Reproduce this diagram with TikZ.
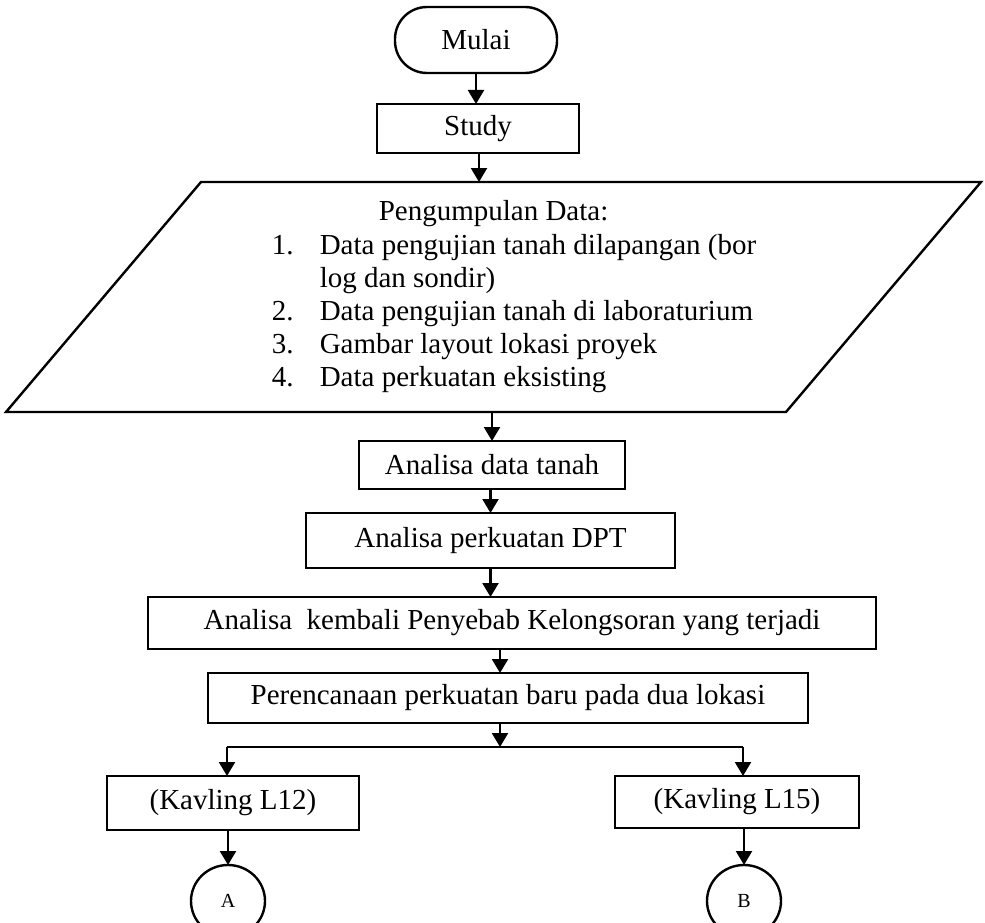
\documentclass[tikz,border=0pt]{standalone}
\usepackage{fontspec}
\setmainfont{Liberation Serif}
\usetikzlibrary{positioning}
\usetikzlibrary{shapes.geometric}
\usetikzlibrary{arrows.meta}

\begin{document}
\begin{tikzpicture}[x=1pt, y=-1pt, thick, main/.style = {draw, line width=2.4pt, inner sep=0pt, outer sep=0pt, font=\fontsize{29}{33.2}\selectfont}, term/.style = {main, rounded corners=32pt}, ring/.style = {draw, ellipse, line width=2.4pt, inner sep=0pt, outer sep=0pt, minimum width=74pt, minimum height=72pt, font=\fontsize{20}{24}\selectfont}, arr/.style = {line width=2.2pt, -{Triangle[length=14pt, width=16pt]}}]
            \path[use as bounding box, clip] (0,0) rectangle (985,923);
            \node[term, minimum width=162pt, minimum height=66pt] (mulai) at (476,40) {Mulai};
            \node[main, minimum width=202pt, minimum height=49pt] (study) [below=31pt of mulai, xshift=2pt] {Study};
            \coordinate (datatop) at (479,182);
            \coordinate (databot) at (492,412);
            \draw[line width=2.4pt] (201,182) -- (981,182) -- (786,412) -- (6,412) -- cycle;
            \node[inner sep=0pt, align=left, font=\fontsize{29}{33.2}\selectfont] (data) at (514,297) {\hspace*{107pt}Pengumpulan Data:\\
                \makebox[48pt][l]{1.}Data pengujian tanah dilapangan (bor\\
                \hspace*{48pt}log dan sondir)\\
                \makebox[48pt][l]{2.}Data pengujian tanah di laboraturium\\
                \makebox[48pt][l]{3.}Gambar layout lokasi proyek\\
                \makebox[48pt][l]{4.}Data perkuatan eksisting};
            \node[main, minimum width=266pt, minimum height=48pt] (tanah) [below=29pt of databot] {Analisa data tanah};
            \node[main, minimum width=369pt, minimum height=55pt] (dpt) [below=24pt of tanah, xshift=-1.5pt] {Analisa perkuatan DPT};
            \node[main, minimum width=728pt, minimum height=52pt] (kembali) [below=29pt of dpt, xshift=21.5pt] {Analisa\ \ kembali Penyebab Kelongsoran yang terjadi};
            \node[main, minimum width=600pt, minimum height=50pt] (rencana) [below=24pt of kembali, xshift=-4pt] {Perencanaan perkuatan baru pada dua lokasi};
            \coordinate (split) at (500,747);
            \coordinate (splitL) at (227,747);
            \coordinate (splitR) at (743,747);
            \node[main, minimum width=252pt, minimum height=54pt] (kav12) [below=53pt of rencana, xshift=-275pt] {(Kavling L12)};
            \node[main, minimum width=244pt, minimum height=52pt] (kav15) [below=53pt of rencana, xshift=229pt] {(Kavling L15)};
            \node[ring] (conA) [below=35pt of kav12, xshift=-5pt] {A};
            \node[ring] (conB) [below=37pt of kav15, xshift=7pt] {B};
            \draw[arr] (mulai.south) -- (mulai.south |- study.north);
            \draw[arr] (study.south -| datatop) -- (datatop);
            \draw[arr] (databot) -- (tanah.north);
            \draw[arr] (tanah.south -| dpt) -- (dpt.north);
            \draw[arr] (dpt.south) -- (dpt.south |- kembali.north);
            \draw[arr] (kembali.south -| split) -- (rencana.north -| split);
            \draw[arr] (rencana.south -| split) -- (split);
            \draw[line width=1.3pt] (splitL) -- (splitR);
            \draw[arr] (splitL) -- (splitL |- kav12.north);
            \draw[arr] (splitR) -- (splitR |- kav15.north);
            \draw[arr] (kav12.south -| conA) -- (conA.north);
            \draw[arr] (kav15.south -| conB) -- (conB.north);
        \end{tikzpicture}
\end{document}
